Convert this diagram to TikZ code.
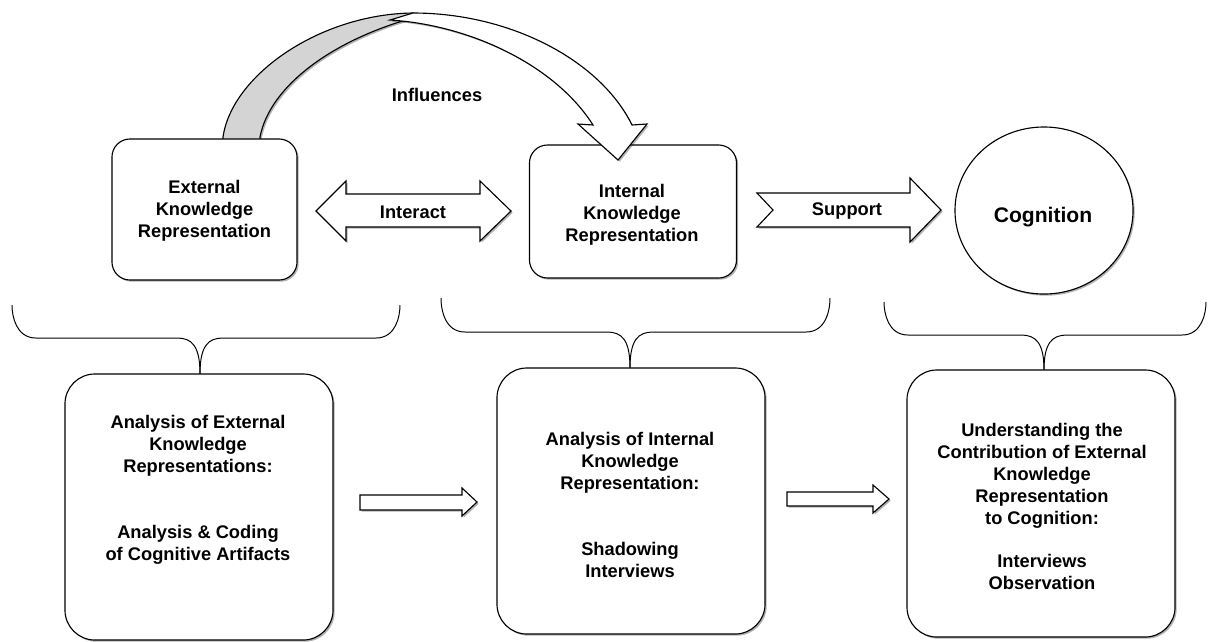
\documentclass[tikz,border=0pt]{standalone}
\usepackage{fontspec}
\setmainfont{Liberation Sans}
\usetikzlibrary{shadows,shapes.geometric}
\begin{document}
\begin{tikzpicture}[x=0.025cm,y=-0.025cm, line width=0.8pt,
 shd/.style={drop shadow={shadow xshift=1.2pt,shadow yshift=-1.2pt,opacity=0.3,fill=black}},
 topbox/.style={draw, fill=white, rounded corners=0.45cm, shd, inner sep=0pt},
 botbox/.style={draw, fill=white, rounded corners=0.75cm, shd, inner sep=0pt},
 lbl/.style={font=\bfseries\fontsize{13}{15.6}\selectfont, align=center, inner sep=0pt},
 blockarrow/.style={draw, fill=white, line join=miter, shd},
 bracepath/.style={draw, line width=0.7pt},
]
\useasboundingbox (0,0) rectangle (1208,641);

% curved "influences" arrow, back (grey) part
\draw[fill=black!17, line join=round, shd] (223,142) -- (223,137) .. controls (232,75) and (320,14) .. (413,13) -- (420,16) .. controls (335,38) and (270,85) .. (260,137) -- (260,142) -- cycle;

% top nodes
\node[topbox, minimum width=4.625cm, minimum height=3.525cm] (ext) at (204.5,209.5) {};
\node[topbox, minimum width=5.175cm, minimum height=3.325cm] (int) at (633,211.5) {};
\node[draw, fill=white, ellipse, shd, inner sep=0pt, minimum width=4.45cm, minimum height=4.175cm] (cog) at (1044,210.5) {};
\node[inner sep=0pt, text depth=0pt, font=\bfseries\fontsize{15}{18}\selectfont] (tcog) at (1043,215) {Cognition};

% curved arrow, front (white) part with head
\draw[fill=white, line join=miter, shd] (413,13) .. controls (510,13) and (600,60) .. (632,125) -- (647,124) -- (618,160) -- (578,124) -- (593,125) .. controls (555,65) and (470,25) .. (390,20) -- cycle;

\node[lbl] (tinf) at (437,95) {Influences};
\node[lbl] (text) at (204.5,211) {External\\Knowledge\\Representation};
\node[lbl] (tint) at (632,215) {Internal\\Knowledge\\Representation};

% Interact double arrow
\draw[blockarrow] (316,211) -- (346,181) -- (346,194) -- (480,194) -- (480,181) -- (511,211) -- (480,241) -- (480,227) -- (346,227) -- (346,241) -- cycle;
\node[lbl] (tinter) at (413,212) {Interact};

% Support arrow
\draw[blockarrow] (757,193) -- (910,193) -- (910,178) -- (941,210) -- (910,242) -- (910,227) -- (757,227) -- (773,210) -- cycle;
\node[lbl] (tsup) at (847,211) {Support};

% braces
\foreach \L/\R/\T/\H/\C/\P in {12/400/305/338/200/374, 441/830/298/332/630/368, 884/1206/302/335/1044/370}{
  \draw[bracepath] (\L,\T) .. controls (\L,{\H-22}) and ({\L+4},\H) .. ({\L+24},\H) -- ({\C-23},\H) .. controls ({\C-8},\H) and (\C,{\H+8}) .. (\C,\P);
  \draw[bracepath] (\R,\T) .. controls (\R,{\H-22}) and ({\R-4},\H) .. ({\R-24},\H) -- ({\C+23},\H) .. controls ({\C+8},\H) and (\C,{\H+8}) .. (\C,\P);
}

% bottom boxes
\node[botbox, minimum width=6.7cm, minimum height=6.65cm] (b1) at (199,507) {};
\node[botbox, minimum width=6.7cm, minimum height=6.65cm] (b2) at (631,501) {};
\node[botbox, minimum width=6.7cm, minimum height=6.675cm] (b3) at (1041,503.5) {};

\node[lbl] (tb1) at (198,490) {Analysis of External\\Knowledge\\Representations:\\[31.2pt]Analysis \& Coding\\of Cognitive Artifacts};
\node[lbl] (tb2) at (630,505) {Analysis of Internal\\Knowledge\\Representation:\\[31.2pt]Shadowing\\Interviews};
\node[lbl] (tb3) at (1042,506.5) {Understanding the\\Contribution of External\\Knowledge\\Representation\\to Cognition:\\[15.6pt]Interviews\\Observation};

% bottom arrows
\draw[blockarrow] (360,495) -- (462,495) -- (462,488) -- (477,502) -- (462,516) -- (462,510) -- (360,510) -- cycle;
\draw[blockarrow] (787,492) -- (873,492) -- (873,485) -- (889,499) -- (873,513) -- (873,506) -- (787,506) -- cycle;
\end{tikzpicture}
\end{document}
